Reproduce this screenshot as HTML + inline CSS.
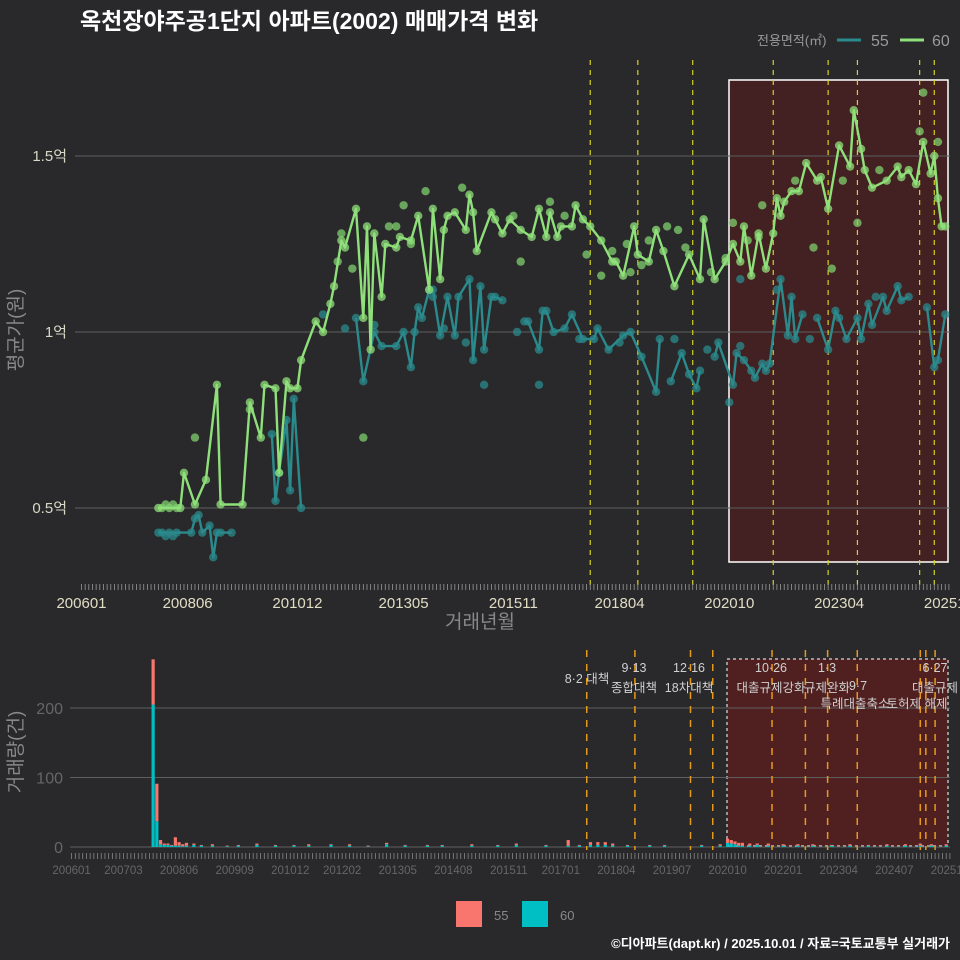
<!DOCTYPE html>
<html><head><meta charset="utf-8">
<style>
html,body{margin:0;padding:0;background:#29292b;}
svg{display:block;font-family:"Liberation Sans","Noto Sans CJK KR",sans-serif;}
</style></head>
<body>
<svg id="chart" width="960" height="960" viewBox="0 0 960 960" xmlns="http://www.w3.org/2000/svg">
<rect x="0" y="0" width="960" height="960" fill="#29292b"/>
<text x="80" y="29" fill="#ffffff" font-size="23" font-weight="bold">옥천장야주공1단지 아파트(2002) 매매가격 변화</text>
<g>
<text x="757" y="45" fill="#999" font-size="13">전용면적(㎡)</text>
<line x1="837" y1="40" x2="861" y2="40" stroke="#2a8a8c" stroke-width="3"/>
<text x="871" y="46" fill="#999" font-size="16">55</text>
<line x1="900" y1="40" x2="924" y2="40" stroke="#8fe07a" stroke-width="3"/>
<text x="932" y="46" fill="#999" font-size="16">60</text>
</g>
<text transform="translate(22,330) rotate(-90)" text-anchor="middle" fill="#888" font-size="19">평균가(원)</text>
<text x="480" y="628" text-anchor="middle" fill="#888" font-size="19">거래년월</text>
<text transform="translate(22,752) rotate(-90)" text-anchor="middle" fill="#888" font-size="19">거래량(건)</text>
<g id="topPanel"></g>
<g id="botPanel"></g>
<g>
<rect x="456" y="901" width="26" height="26" fill="#f8766d"/>
<text x="494" y="920" fill="#888" font-size="13">55</text>
<rect x="522" y="901" width="26" height="26" fill="#00bfc4"/>
<text x="560" y="920" fill="#888" font-size="13">60</text>
</g>
<text x="950" y="948" text-anchor="end" fill="#ffffff" font-size="13" font-weight="bold">©디아파트(dapt.kr) / 2025.10.01 / 자료=국토교통부 실거래가</text>
</svg>
<script>
// months since 2006-01
const m60 = [21,27,28,31,34,37,38,44,46,49,50,53,54,56,57,59,60,64,66,68,69,71,72,75,77,78,79,80,82,83,86,87,90,92,95,96,98,99,100,102,105,106,107,108,112,113,115,117,120,123,125,127,128,130,131,134,135,137,139,142,145,146,148,151,152,155,157,159,162,166,169,170,173,176,178,180,181,183,185,187,189,190,191,192,194,196,198,201,202,204,207,210,211,213,214,216,220,223,224,226,228,230,232,233,234,235,236];
const v60 = [0.50,0.50,0.60,0.51,0.58,0.85,0.51,0.51,0.80,0.70,0.85,0.84,0.60,0.86,0.84,0.84,0.92,1.03,1.00,1.08,1.13,1.26,1.24,1.35,1.04,1.30,0.95,1.28,1.10,1.25,1.24,1.27,1.26,1.33,1.12,1.35,1.15,1.29,1.33,1.34,1.29,1.39,1.34,1.23,1.34,1.32,1.28,1.32,1.29,1.27,1.35,1.27,1.34,1.27,1.30,1.30,1.36,1.32,1.30,1.26,1.20,1.20,1.16,1.30,1.22,1.20,1.29,1.23,1.13,1.22,1.15,1.32,1.15,1.20,1.25,1.20,1.30,1.16,1.28,1.18,1.28,1.38,1.33,1.37,1.40,1.40,1.48,1.43,1.44,1.35,1.53,1.47,1.63,1.52,1.46,1.41,1.43,1.47,1.44,1.46,1.42,1.54,1.45,1.50,1.38,1.30,1.30];
const m55 = [21,30,31,32,33,35,36,37,38,41,42,52,53,54,56,57,58,60,61,75,77,80,82,86,88,90,91,92,93,95,96,98,100,102,103,106,107,109,110,112,113,115,116,121,122,125,126,127,129,132,134,137,140,141,144,148,150,153,157,158,160,161,164,166,168,169,170,173,174,178,179,181,183,184,186,187,188,191,193,194,195,197,199,201,204,206,207,209,212,213,215,216,219,220,223,224,226,227,231,233,234,236];
const v55 = [0.43,0.43,0.47,0.48,0.43,0.45,0.36,0.43,0.43,0.43,null,0.71,0.52,0.60,0.75,0.55,0.81,0.50,null,1.04,0.86,1.00,0.96,0.96,1.00,0.90,1.00,1.07,1.04,1.12,1.12,0.99,1.10,0.99,1.10,1.15,0.92,1.13,0.95,1.10,1.10,1.09,null,1.03,1.03,0.95,1.06,1.06,1.00,1.01,1.05,0.98,0.98,1.01,0.95,0.99,1.00,0.93,0.83,0.98,null,0.86,0.94,0.88,0.84,0.89,null,0.93,0.97,0.85,0.94,0.92,0.89,0.87,0.91,0.89,0.91,1.15,0.99,1.10,0.98,1.05,null,1.04,0.95,1.06,1.04,0.98,1.04,0.98,1.08,1.02,1.10,1.06,1.13,1.09,1.10,null,1.07,0.90,0.92,1.05];
const extraM = [22,23,24,25,26,22,23,24,25,26,31,46,71,77,86,90,96,104,110,120,125,138,142,150,155,160,165,176,178,180,185,200,205,212,230,234,70,74,84,88,94,118,128,132,145,149,153,163,172,182,186,195,208,218,229,66,72,80,99,105,119,136,147,162,171,177,180,190,199,217];
const extraV = [0.50,0.51,0.50,0.51,0.50,0.43,0.42,0.43,0.42,0.43,0.70,0.78,1.28,0.70,1.30,1.25,1.10,1.41,0.85,1.20,0.85,1.22,1.16,1.17,1.26,1.30,1.24,1.21,1.31,1.15,1.27,1.24,1.18,1.31,1.68,1.54,1.20,1.18,1.30,1.36,1.40,1.33,1.37,1.33,1.23,1.25,1.19,1.29,1.17,1.26,1.36,1.43,1.43,1.46,1.57,1.05,1.01,1.02,1.01,0.97,1.00,0.98,0.97,0.98,0.95,0.80,0.96,1.12,0.98,1.10];
const extraS = [60,60,60,60,60,55,55,55,55,55,60,60,60,60,60,60,55,60,55,60,55,60,60,60,60,60,60,60,60,55,60,60,60,60,60,60,60,60,60,60,60,60,60,60,60,60,60,60,60,60,60,60,60,60,60,55,55,55,55,55,55,55,55,55,55,55,55,55,55,55];
// volume (counts per month)
const barM = [22,23,24,25,26,27,28,29,30,31,33,35,38,42,45,50,55,60,64,70,75,80,85,90,96,100,108,115,120,128,134,137,140,142,144,146,150,156,160,170,175,177,178,179,180,181,183,185,188,192,196,200,205,210,215,220,225,229,232,236];
const bar55 = [65,54,6,2,2,1,12,5,3,4,2,1,2,1,1,2,1,1,2,1,2,1,2,1,1,1,2,1,2,1,8,1,4,4,4,3,1,1,1,1,2,6,5,4,4,4,3,2,3,2,2,2,1,2,1,2,2,3,2,2];
const bar60 = [205,37,4,3,3,2,2,2,1,2,3,2,2,1,2,3,2,2,2,3,2,1,4,2,2,2,2,2,3,2,2,2,3,3,3,2,2,2,2,2,2,6,5,4,2,2,2,3,2,2,2,2,2,2,2,2,2,2,2,2];
const topTickM = [0,29,59,88,118,147,177,207,237];
const topTickL = ["200601","200806","201012","201305","201511","201804","202010","202304","202510"];
const botTickM = [0,14,29,44,59,73,88,103,118,132,147,162,177,192,207,222,237];
const botTickL = ["200601","200703","200806","200909","201012","201202","201305","201408","201511","201701","201804","201907","202010","202201","202304","202407","202510"];
const priceTicks = [0.5,1.0,1.5];
const priceTickL = ["0.5억","1억","1.5억"];
const volTicks = [0,100,200];
const policyTop = [139,152,167,189,204,212,229,233];
const policyBot = [139,152,167,173,189,198,204,212,229,230.5,233];

const NS = "http://www.w3.org/2000/svg";
function mk(parent, tag, attrs){const e=document.createElementNS(NS,tag);for(const k in attrs)e.setAttribute(k,attrs[k]);parent.appendChild(e);return e;}
const xT = m => 81.5 + 3.66*m;
const yT = v => 332 - (v-1)*352;
const xB = m => 71.6 + 3.706*m;
const yB = c => 847 - c*0.695;
const gTop = document.getElementById('topPanel');
const gBot = document.getElementById('botPanel');

let hr = mk(gTop,'rect',{x:729,y:80,width:219,height:482,fill:'#5a1a1a',"fill-opacity":0.55,stroke:'#ffffff','stroke-width':1.5});


priceTicks.forEach((v,i)=>{
  const l = mk(gTop,'line',{x1:75,x2:950,y1:yT(v),y2:yT(v),stroke:'#5e5e5e','stroke-width':1});
  
  
  const t = mk(gTop,'text',{x:67,y:yT(v)+5,'text-anchor':'end',fill:'#d8d8c8','font-size':15});
  t.textContent = priceTickL[i];
  
  
});
policyTop.forEach(m=>{
  const l = mk(gTop,'line',{x1:xT(m),x2:xT(m),y1:60,y2:588,stroke:'#d6d31e','stroke-width':1.2,'stroke-dasharray':'5,5'});
  
  
});
for(let m=0;m<=237;m++){
  const l = mk(gTop,'line',{x1:xT(m),x2:xT(m),y1:584,y2:590,stroke:'#999','stroke-width':0.8});
  
  
  const l2 = mk(gBot,'line',{x1:xB(m),x2:xB(m),y1:853,y2:859,stroke:'#888','stroke-width':0.8});
  
  
}
topTickM.forEach((m,i)=>{
  const t = mk(gTop,'text',{x:xT(m),y:608,'text-anchor':'middle',fill:'#e0ddc4','font-size':15});
  t.textContent = topTickL[i];
  
  
});
extraM.forEach((m,i)=>{
  const c = mk(gTop,'circle',{cx:xT(m),cy:yT(extraV[i]),r:4.2,fill:extraS[i]===60?'#7fcf6e':'#2a8a8c','fill-opacity':0.75});
  
  
});
function series(ms,vs,color,name){
  let d='',pen=false;
  ms.forEach((m,i)=>{const v=vs[i]; if(v==null){pen=false;return;} d+=(pen?'L':'M')+xT(m).toFixed(1)+','+yT(v).toFixed(1); pen=true;});
  ms.forEach((m,i)=>{const v=vs[i]; if(v==null)return;
    const c = mk(gTop,'circle',{cx:xT(m),cy:yT(v),r:4.2,fill:color,'fill-opacity':0.75});
    
    
  });
  const p = mk(gTop,'path',{d:d,fill:'none',stroke:color,'stroke-width':2.4,'stroke-linejoin':'round'});
  
  
}
series(m55,v55,'#2a8a8c','55');
series(m60,v60,'#8fe07a','60');

let br = mk(gBot,'rect',{x:727,y:659,width:221,height:187,fill:'#6a1a1a',"fill-opacity":0.6,stroke:'#bbbbbb','stroke-width':1.5,'stroke-dasharray':'3,3'});


volTicks.forEach(v=>{
  const l = mk(gBot,'line',{x1:70,x2:950,y1:yB(v),y2:yB(v),stroke:'#5e5e5e','stroke-width':1});
  
  
  const t = mk(gBot,'text',{x:63,y:yB(v)+6,'text-anchor':'end',fill:'#666','font-size':16});
  t.textContent = v;
  
  
});
policyBot.forEach(m=>{
  const l = mk(gBot,'line',{x1:xB(m),x2:xB(m),y1:650,y2:850,stroke:'#e69a1a','stroke-width':1.5,'stroke-dasharray':'7,7'});
  
  
});
barM.forEach((m,i)=>{
  const x = xB(m)-1.6;
  const a = mk(gBot,'rect',{x:x,y:yB(bar60[i]),width:3.2,height:bar60[i]*0.695,fill:'#00bfc4'});
  
  
  const b = mk(gBot,'rect',{x:x,y:yB(bar60[i]+bar55[i]),width:3.2,height:bar55[i]*0.695,fill:'#f8766d'});
  
  
});
botTickM.forEach((m,i)=>{
  const t = mk(gBot,'text',{x:xB(m),y:874,'text-anchor':'middle',fill:'#666','font-size':11.5});
  t.textContent = botTickL[i];
  
  
});
const annX = [587,634,634,689,689,771,771,827,827,858,855,917,935,935];
const annY = [683,672,692,672,692,672,692,672,692,690,708,708,672,692];
const annT = ["8·2 대책","9·13","종합대책","12·16","18차대책","10·26","대출규제강화","1·3","규제완화","9·7","특례대출축소","토허제 해제","6·27","대출규제"];
annT.forEach((s,i)=>{
  const t = mk(gBot,'text',{x:annX[i],y:annY[i],'text-anchor':'middle',fill:'#d0d0d0','font-size':12.5});
  t.textContent = s;
  
  
});
</script>
</body></html>
